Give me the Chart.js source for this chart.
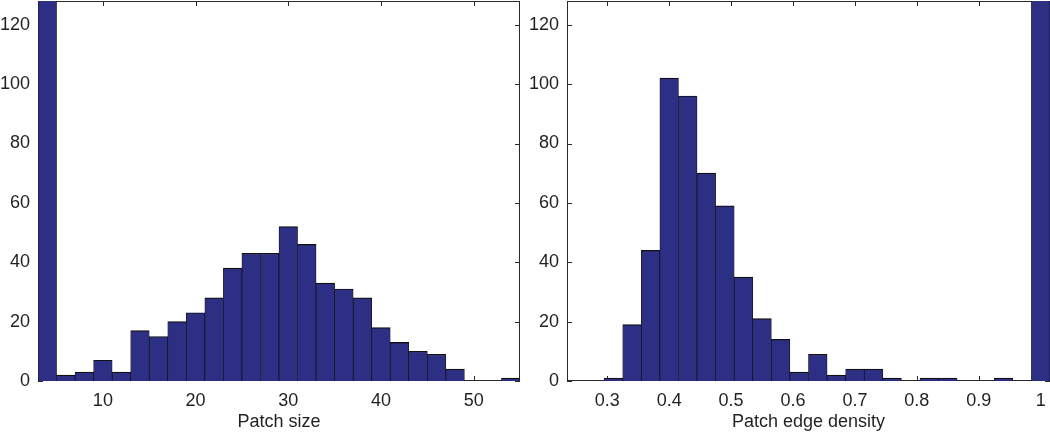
<!DOCTYPE html>
<html><head><meta charset="utf-8">
<script src="https://cdn.jsdelivr.net/npm/chart.js@4"></script>
<style>
html,body{margin:0;padding:0;background:#fff;}
#wrap{position:relative;width:1050px;height:433px;overflow:hidden;}
.box{position:absolute;top:0;height:433px;width:525px;}
canvas{display:block;}
</style></head><body>
<div id="wrap">
<div class="box" style="left:0"><canvas id="c1" width="525" height="433"></canvas></div>
<div class="box" style="left:525px"><canvas id="c2" width="525" height="433"></canvas></div>
</div>
<script>
// Patch size histogram (bin centres, counts); first bin is clipped at the top
const sizeBinCenters = [4,6,8,10,12,14,16,18,20,22,24,26,28,30,32,34,36,38,40,42,44,46,48,50,52,54];
const sizeCounts = [160,2,3,7,3,17,15,20,23,28,38,43,43,52,46,33,31,28,18,13,10,9,4,0,0,1];
const sizeTicks = [10,20,30,40,50];

// Patch edge density histogram; last bin is clipped at the top
const densityBinCenters = [0.25,0.28,0.31,0.34,0.37,0.40,0.43,0.46,0.49,0.52,0.55,0.58,0.61,0.64,0.67,0.70,0.73,0.76,0.79,0.82,0.85,0.88,0.91,0.94,0.97,1.00];
const densityCounts = [0,0,1,19,44,102,96,70,59,35,21,14,3,9,2,4,4,1,0,1,1,0,0,1,0,160];
const densityTicks = [0.3,0.4,0.5,0.6,0.7,0.8,0.9,1];

const countTicks = [0,20,40,60,80,100,120];

const FONT = {family: "'Liberation Sans', Arial, sans-serif", size: 18};
const TEXT = '#231f20';
const BAR = '#2c2f84';
const EDGE = '#111111';

const framePlugin = {
  id: 'frame',
  beforeDatasetsDraw(chart) {
    const {ctx, chartArea: a, scales: {x, y}} = chart;
    const L = 5;
    ctx.save();
    ctx.strokeStyle = '#2a2a2a';
    ctx.lineWidth = 1;
    ctx.strokeRect(a.left + 0.5, a.top + 0.5, a.right - a.left - 1, a.bottom - a.top - 1);
    ctx.beginPath();
    x.ticks.forEach((t, i) => {
      const px = Math.round(x.getPixelForTick(i)) + 0.5;
      ctx.moveTo(px, a.bottom); ctx.lineTo(px, a.bottom - L);
      ctx.moveTo(px, a.top); ctx.lineTo(px, a.top + L);
    });
    y.ticks.forEach((t, i) => {
      const py = Math.round(y.getPixelForTick(i)) + 0.5;
      ctx.moveTo(a.left, py); ctx.lineTo(a.left + L, py);
      ctx.moveTo(a.right, py); ctx.lineTo(a.right - L, py);
    });
    ctx.stroke();
    ctx.restore();
  }
};

function makeHist(id, centers, counts, xTicks, xMin, xMax, title, yWidth, padRight) {
  new Chart(document.getElementById(id), {
    type: 'bar',
    data: {
      datasets: [{
        data: centers.map((c, i) => ({x: c, y: counts[i]})),
        backgroundColor: BAR,
        borderColor: EDGE,
        borderWidth: {top: 1.2, left: 0.75, right: 0.75, bottom: 0},
        borderSkipped: false,
        barPercentage: 1,
        categoryPercentage: 1
      }]
    },
    options: {
      responsive: false,
      animation: false,
      layout: {padding: {top: 1, right: padRight, left: 0, bottom: 0}},
      plugins: {legend: {display: false}, tooltip: {enabled: false}},
      scales: {
        x: {
          type: 'linear',
          offset: false,
          min: xMin, max: xMax,
          grid: {display: false, drawTicks: false, offset: false},
          border: {display: false},
          afterBuildTicks: s => { s.ticks = xTicks.map(v => ({value: v})); },
          afterFit: s => { s.height = 52; s.paddingLeft = 0; s.paddingRight = 0; },
          ticks: {font: FONT, color: TEXT, padding: 9, maxRotation: 0, autoSkip: false,
                  callback: v => String(v)},
          title: {display: true, text: title, font: FONT, color: TEXT, padding: {top: 0, bottom: 0}}
        },
        y: {
          min: 0, max: 128,
          grid: {display: false, drawTicks: false},
          border: {display: false},
          afterBuildTicks: s => { s.ticks = countTicks.map(v => ({value: v})); },
          afterFit: s => { s.width = yWidth; s.paddingTop = 0; s.paddingBottom = 0; },
          ticks: {font: FONT, color: TEXT, padding: 8, callback: v => String(v)}
        }
      }
    },
    plugins: [framePlugin]
  });
}

makeHist('c1', sizeBinCenters, sizeCounts, sizeTicks, 3, 55, 'Patch size', 38, 5);
makeHist('c2', densityBinCenters, densityCounts, densityTicks, 0.235, 1.015, 'Patch edge density', 42, 0);
</script>
</body></html>
